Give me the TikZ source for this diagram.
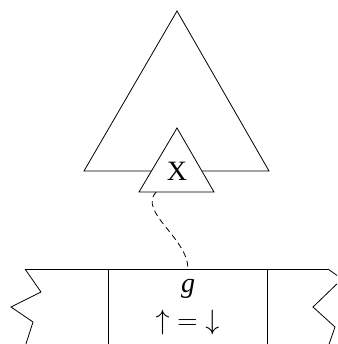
\RequirePackage{fix-cm}
\documentclass[tikz,border=0pt]{standalone}
\usepackage{fontspec}
\setmainfont{Liberation Serif}
\begin{document}
\begin{tikzpicture}[x=1pt,y=-1pt,line width=0.8pt,
  txt/.style={font=\fontsize{28}{32}\selectfont, inner sep=0pt},
  link/.style={dash pattern=on 6pt off 4pt}]
\useasboundingbox (0,0) rectangle (337,344);
\clip (0,0) rectangle (337,344);
% big triangle
\draw (177,11) -- (84,171) -- (269,171) -- cycle;
% small triangle
\filldraw[fill=white] (177,128) -- (139,192) -- (214,192) -- cycle;
\node[txt, anchor=base] (x) at (177,181) {X};
% band
\draw (25,269) -- (328,269);
\draw (25,269) -- (41,292) -- (11,307) -- (33,322) -- (24,350);
\draw (328,269) -- (342,279) -- (313,307) -- (335,327) -- (327,350);
\draw (108,269) -- (108,350);
\draw (267,269) -- (267,350);
\node[txt, anchor=base] (g) at (188,292) {\textit{g}};
\node[txt] (eq) at (187.5,322) {$\uparrow\mathord{=}\downarrow$};
% connector
\coordinate (s) at (156,192);
\coordinate (t) at (188,269);
\draw[link] (s) .. controls (138,212) and (188,238) .. (t);
\end{tikzpicture}
\end{document}
